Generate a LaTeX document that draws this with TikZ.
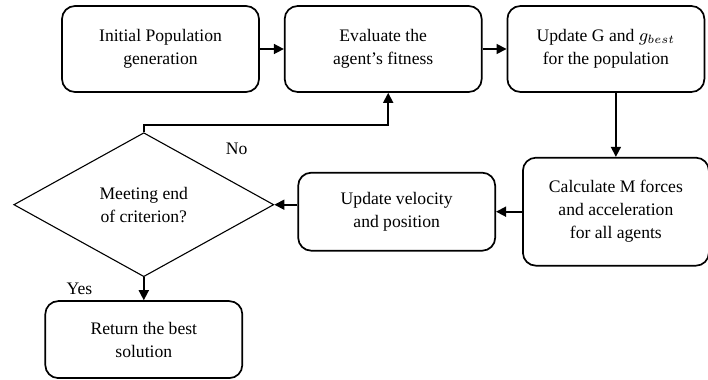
\documentclass[tikz,border=0pt]{standalone}
\usepackage{amsmath}
\usepackage{fontspec}
\setmainfont{Liberation Serif}
\usepackage{tikz}
\usetikzlibrary{shapes.geometric, arrows.meta, positioning}

\tikzset{
    block/.style={draw, rounded corners=6.5pt, line width=0.85pt, minimum width=98.5pt,
        minimum height=43pt, align=center, font=\fontsize{8.8}{11.5}\selectfont},
    decision/.style={draw, diamond, line width=0.55pt, minimum width=130pt, minimum height=72pt,
        inner sep=0pt, align=center, font=\fontsize{8.8}{11.5}\selectfont},
    flow/.style={line width=0.85pt, -{Triangle[length=5pt, width=5pt]}},
    lbl/.style={font=\fontsize{8.8}{11.5}\selectfont}
}

\begin{document}
\begin{tikzpicture}
        \useasboundingbox (0,0) rectangle (354pt,190pt);

        \node[block]                      (0) at (80.25pt,165.5pt) {Initial Population\\generation};
        \node[block, right=12pt of 0]     (1) {Evaluate the\\agent's fitness};
        \node[block, right=12pt of 1]     (2) {Update G and $g_{best}$\\for the population};
        \node[block, minimum width=93pt, minimum height=54pt,
              below=32pt of 2, xshift=5pt] (3) {Calculate M forces\\and acceleration\\for all agents};
        \node[block, minimum height=39pt, left=13pt of 3] (4) {Update velocity\\and position};
        \node[decision, left=11.5pt of 4, yshift=3.5pt]  (5) {Meeting end\\of criterion?};
        \node[block, minimum height=38.5pt, below=11.5pt of 5] (6) {Return the best\\solution};

        \draw[flow] (0) -- (1);
        \draw[flow] (1) -- (2);
        \draw[flow] (3.north |- 2.south) -- (3.north);
        \draw[flow] (3) -- (4);
        \draw[flow] (4.west |- 5.east) -- (5.east);
        \draw[flow] (5.north) -- ++(0,3.5pt) -| node[lbl, pos=0.19, below=5pt] {No} ([xshift=2.5pt]1.south);
        \draw[flow] (5.south) -- node[lbl, midway, left=22pt] {Yes} (6.north);
\end{tikzpicture}
\end{document}
